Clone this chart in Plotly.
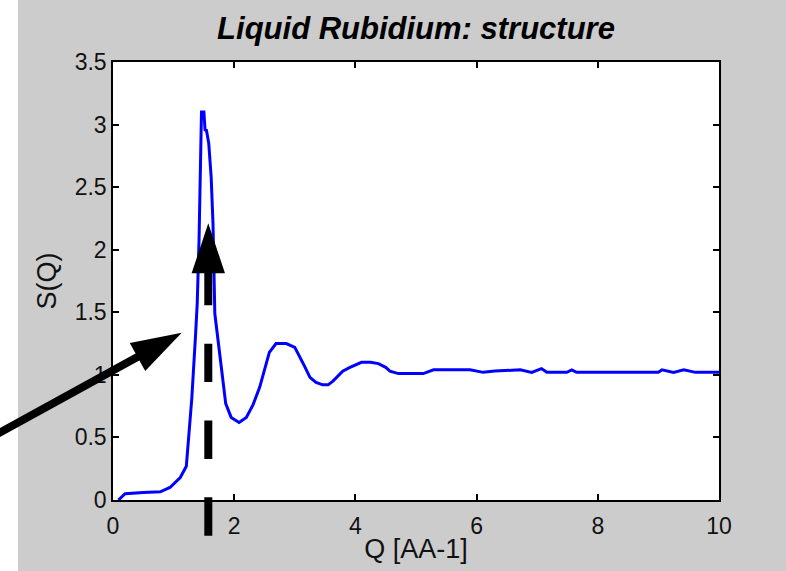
import plotly.graph_objects as go

# ---- data ----
q_values = [0.09, 0.2, 0.5, 0.78, 0.94, 1.11, 1.21, 1.26, 1.30, 1.36, 1.39, 1.42, 1.44,
            1.46, 1.50, 1.52, 1.54, 1.58, 1.62, 1.65, 1.68, 1.72, 1.79, 1.86, 1.95, 2.08,
            2.20, 2.31, 2.42, 2.53, 2.58, 2.69, 2.86, 3.00, 3.08, 3.16, 3.25, 3.35, 3.46,
            3.55, 3.63, 3.71, 3.79, 3.91, 4.00, 4.10, 4.25, 4.38, 4.50, 4.57, 4.71, 5.12,
            5.29, 5.89, 6.11, 6.30, 6.72, 6.91, 7.07, 7.16, 7.49, 7.57, 7.65, 9.00, 9.06,
            9.25, 9.42, 9.61, 10.0]
s_values = [0.0, 0.05, 0.06, 0.065, 0.10, 0.18, 0.27, 0.56, 0.81, 1.30, 1.57, 2.08, 2.58,
            3.10, 3.10, 2.95, 2.96, 2.85, 2.58, 2.21, 1.49, 1.33, 1.01, 0.77, 0.66, 0.62,
            0.66, 0.76, 0.90, 1.09, 1.18, 1.25, 1.25, 1.22, 1.15, 1.07, 0.98, 0.94, 0.92,
            0.92, 0.95, 0.99, 1.03, 1.06, 1.08, 1.10, 1.10, 1.09, 1.06, 1.03, 1.01, 1.01,
            1.04, 1.04, 1.02, 1.03, 1.04, 1.02, 1.05, 1.02, 1.02, 1.04, 1.02, 1.02, 1.04,
            1.02, 1.04, 1.02, 1.02]
x_ticks = [0, 2, 4, 6, 8, 10]
y_ticks = [0, 0.5, 1, 1.5, 2, 2.5, 3, 3.5]
y_tick_labels = ["0", "0.5", "1", "1.5", "2", "2.5", "3", "3.5"]

title_text = "Liquid Rubidium: structure"
x_label = "Q [AA-1]"
y_label = "S(Q)"

# ---- layout geometry (pixels) ----
W, H = 786, 571
L, R, T, B = 113, 67, 62, 71
PW, PH = W - L - R, H - T - B


def px(x):
    return (x - L) / PW


def py(y):
    return (H - B - y) / PH


GRAY = "#cccccc"
FONT = "Liberation Sans, Arial, sans-serif"

fig = go.Figure()
fig.add_trace(go.Scatter(x=q_values, y=s_values, mode="lines",
                         line=dict(color="#0000ff", width=3, shape="linear"),
                         showlegend=False, hoverinfo="skip"))

axis_common = dict(showgrid=False, zeroline=False, showline=True, linecolor="black",
                   linewidth=1.5, mirror="ticks", ticks="inside", ticklen=6,
                   tickcolor="black", tickwidth=1.5,
                   tickfont=dict(family=FONT, size=23, color="#111111"))

fig.update_xaxes(range=[0, 10], tickvals=x_ticks, ticktext=[str(t) for t in x_ticks],
                 ticklabelstandoff=5,
                 title=dict(text=x_label, standoff=1,
                            font=dict(family=FONT, size=27, color="#111111")),
                 **axis_common)
fig.update_yaxes(range=[0, 3.5], tickvals=y_ticks, ticktext=y_tick_labels,
                 title=dict(text=y_label, standoff=10,
                            font=dict(family=FONT, size=27, color="#111111")),
                 **axis_common)

shapes = []
# white strip on the far left of the figure
shapes.append(dict(type="rect", xref="paper", yref="paper", x0=px(-2), x1=px(18),
                   y0=py(-2), y1=py(H + 2), fillcolor="white", line=dict(width=0),
                   layer="below"))

# solid arrow (pointing to the peak flank)
tip = (181.7, 332.7)
base = (137.5, 357.0)
ux, uy = (tip[0] - base[0]) / 50.4, (tip[1] - base[1]) / 50.4
nx, ny = -uy, ux
tail = (-5, 435.3)
shapes.append(dict(type="line", xref="paper", yref="paper",
                   x0=px(tail[0]), y0=py(tail[1]), x1=px(base[0] + 3 * ux),
                   y1=py(base[1] + 3 * uy), line=dict(color="black", width=8)))
c1 = (base[0] + 16 * nx, base[1] + 16 * ny)
c2 = (base[0] - 16 * nx, base[1] - 16 * ny)
shapes.append(dict(type="path", xref="paper", yref="paper",
                   path=f"M {px(tip[0])} {py(tip[1])} L {px(c1[0])} {py(c1[1])} "
                        f"L {px(c2[0])} {py(c2[1])} Z",
                   fillcolor="black", line=dict(width=0)))

# dashed vertical arrow
ax = 208.3
shapes.append(dict(type="line", xref="paper", yref="paper",
                   x0=px(ax), y0=py(535.7), x1=px(ax), y1=py(268),
                   line=dict(color="black", width=8, dash="38.4px,38.4px")))
shapes.append(dict(type="path", xref="paper", yref="paper",
                   path=f"M {px(ax)} {py(223.3)} L {px(ax - 16.7)} {py(273.3)} "
                        f"L {px(ax + 16.7)} {py(273.3)} Z",
                   fillcolor="black", line=dict(width=0)))

fig.update_layout(
    width=W, height=H,
    margin=dict(l=L, r=R, t=T, b=B, pad=0),
    paper_bgcolor=GRAY, plot_bgcolor="white",
    title=dict(text=title_text, x=(L + PW / 2) / W, xanchor="center",
               y=1 - 28 / H, yanchor="middle", yref="container",
               font=dict(family=FONT, size=31, color="black", weight="bold",
                         style="italic")),
    shapes=shapes,
)

fig.write_html("out.html")
